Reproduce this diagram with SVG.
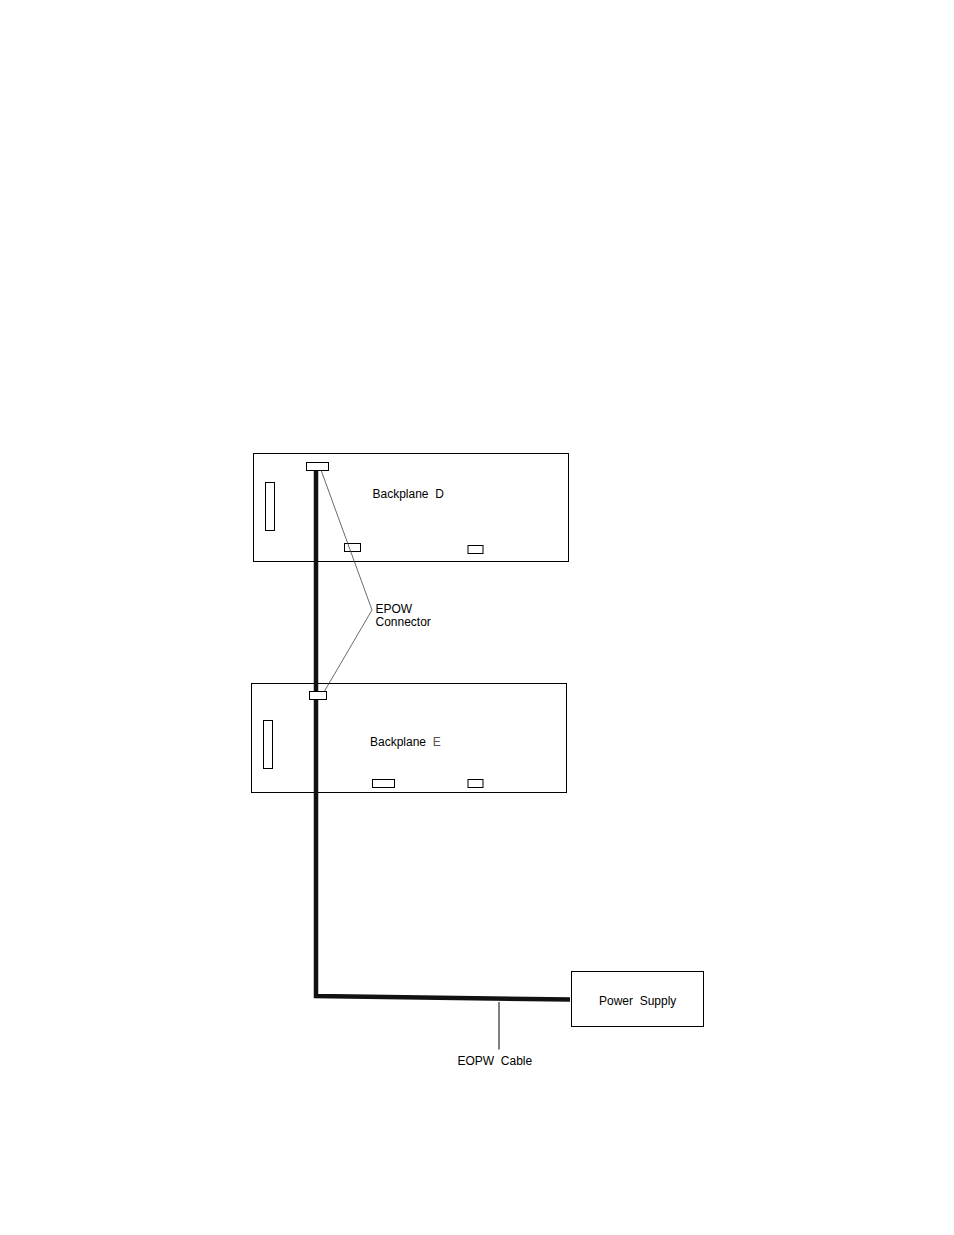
<svg xmlns="http://www.w3.org/2000/svg" width="954" height="1235" viewBox="0 0 954 1235">
<style>
  .box{fill:#fff;stroke:#000;stroke-width:1}
  .part{fill:#fff;stroke:#000;stroke-width:1}
  .lbl{font-family:"Liberation Sans",Arial,sans-serif;font-size:12px;fill:#000;white-space:pre}
  .cable{fill:none;stroke:#111;stroke-width:4.5;stroke-linejoin:miter}
  .thin{fill:none;stroke:#444;stroke-width:0.8}
  .lead{fill:none;stroke:#000;stroke-width:1}
</style>
<rect width="954" height="1235" fill="#fff"/>
<g id="backplane-d">
  <rect class="box" x="253.5" y="453.5" width="315" height="108"/>
  <rect class="part" x="265.5" y="482.5" width="9" height="48"/>
  <rect class="part" x="344.5" y="543.5" width="16" height="8"/>
  <rect class="part" x="468" y="545.5" width="15" height="8"/>
  <text class="lbl" x="372.5" y="498" xml:space="preserve">Backplane  D</text>
</g>
<g id="backplane-e">
  <rect class="box" x="251.5" y="683.5" width="315" height="109"/>
  <rect class="part" x="263.5" y="720.5" width="9" height="48"/>
  <rect class="part" x="372.5" y="779.5" width="22" height="8"/>
  <rect class="part" x="468" y="779.5" width="15" height="8"/>
  <text class="lbl" x="370" y="745.5" xml:space="preserve">Backplane  <tspan fill="#555">E</tspan></text>
</g>
<g id="power-supply">
  <rect class="box" x="571.5" y="971.5" width="132" height="55"/>
  <text class="lbl" x="599" y="1004.5" xml:space="preserve">Power  Supply</text>
</g>
<g id="connectors">
  <polyline class="cable" points="316,470 316,996 570,999.5"/>
  <polyline class="thin" points="321,470 372,610 324,692"/>
  <line class="lead" x1="499" y1="1002" x2="499" y2="1049.5"/>
</g>
<g id="connector-d-top">
  <rect class="part" x="306.5" y="462.5" width="22" height="8"/>
</g>
<g id="connector-e-top">
  <rect class="part" x="309.5" y="691.5" width="17" height="8" fill="none"/>
</g>
<g id="labels">
  <text class="lbl" x="375.5" y="612.5">EPOW</text>
  <text class="lbl" x="375.5" y="625.5">Connector</text>
  <text class="lbl" x="457.5" y="1064.5" xml:space="preserve">EOPW  Cable</text>
</g>
</svg>
